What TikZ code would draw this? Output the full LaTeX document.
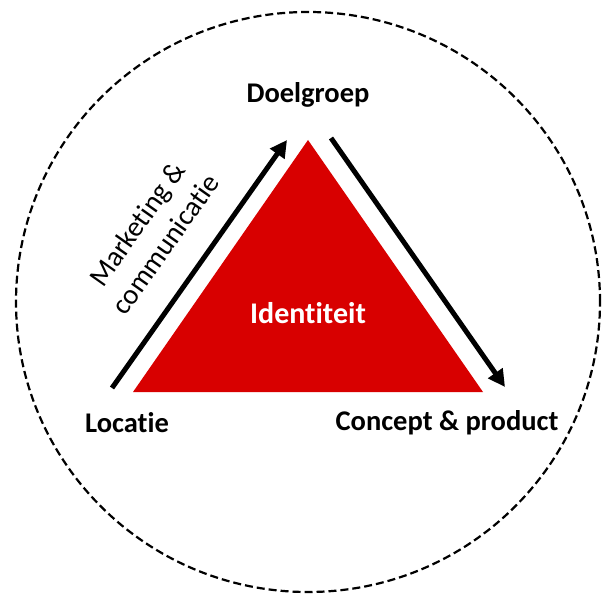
\documentclass[tikz,border=0pt]{standalone}
\usepackage{fontspec}
\setmainfont{Carlito}[Ligatures={NoCommon,NoContextual}]
\usetikzlibrary{arrows.meta}
\definecolor{kernrood}{RGB}{216,0,0}
\tikzset{
  hoek/.style={font=\fontsize{28.5}{34}\selectfont\bfseries, inner sep=0pt},
  pijl/.style={line width=5pt, -{Triangle[length=17pt,width=17pt]}},
}
\begin{document}
\begin{tikzpicture}[x=1pt, y=1pt]
		%%%%% START %%%%%
		\useasboundingbox (0, 0) rectangle (607, 595);
		
		\draw[line width=2.2pt, dash pattern=on 8pt off 4pt] (308, 293) ellipse (292 and 290);
		
		\coordinate (top) at (308, 455);
		\coordinate (links) at (133, 203);
		\coordinate (rechts) at (483, 203);
		\fill[kernrood] (links) -- (top) -- (rechts) -- cycle;
		
		\coordinate (pijlAstart) at (112, 207);
		\coordinate (pijlAeind) at (287, 455);
		\coordinate (pijlBstart) at (331, 457);
		\coordinate (pijlBeind) at (505, 208);
		\draw[pijl] (pijlAstart) -- (pijlAeind);
		\draw[pijl] (pijlBstart) -- (pijlBeind);
		
		\node[hoek] (doelgroep) at (308, 500) {Doelgroep};
		\node[hoek] (locatie) at (127, 172) {Locatie};
		\node[hoek] (concept) at (447, 172) {Concept \& product};
		\node[hoek, text=white, font=\fontsize{30}{36}\selectfont\bfseries] (identiteit) at (308, 282) {Identiteit};
		
		\node[rotate=54.8, align=center, inner sep=0pt, font=\fontsize{28.5}{35}\selectfont] (marketing) at (151, 361) {Marketing \&\\communicatie};
		
		%%%%% END %%%%%
	\end{tikzpicture}
\end{document}
